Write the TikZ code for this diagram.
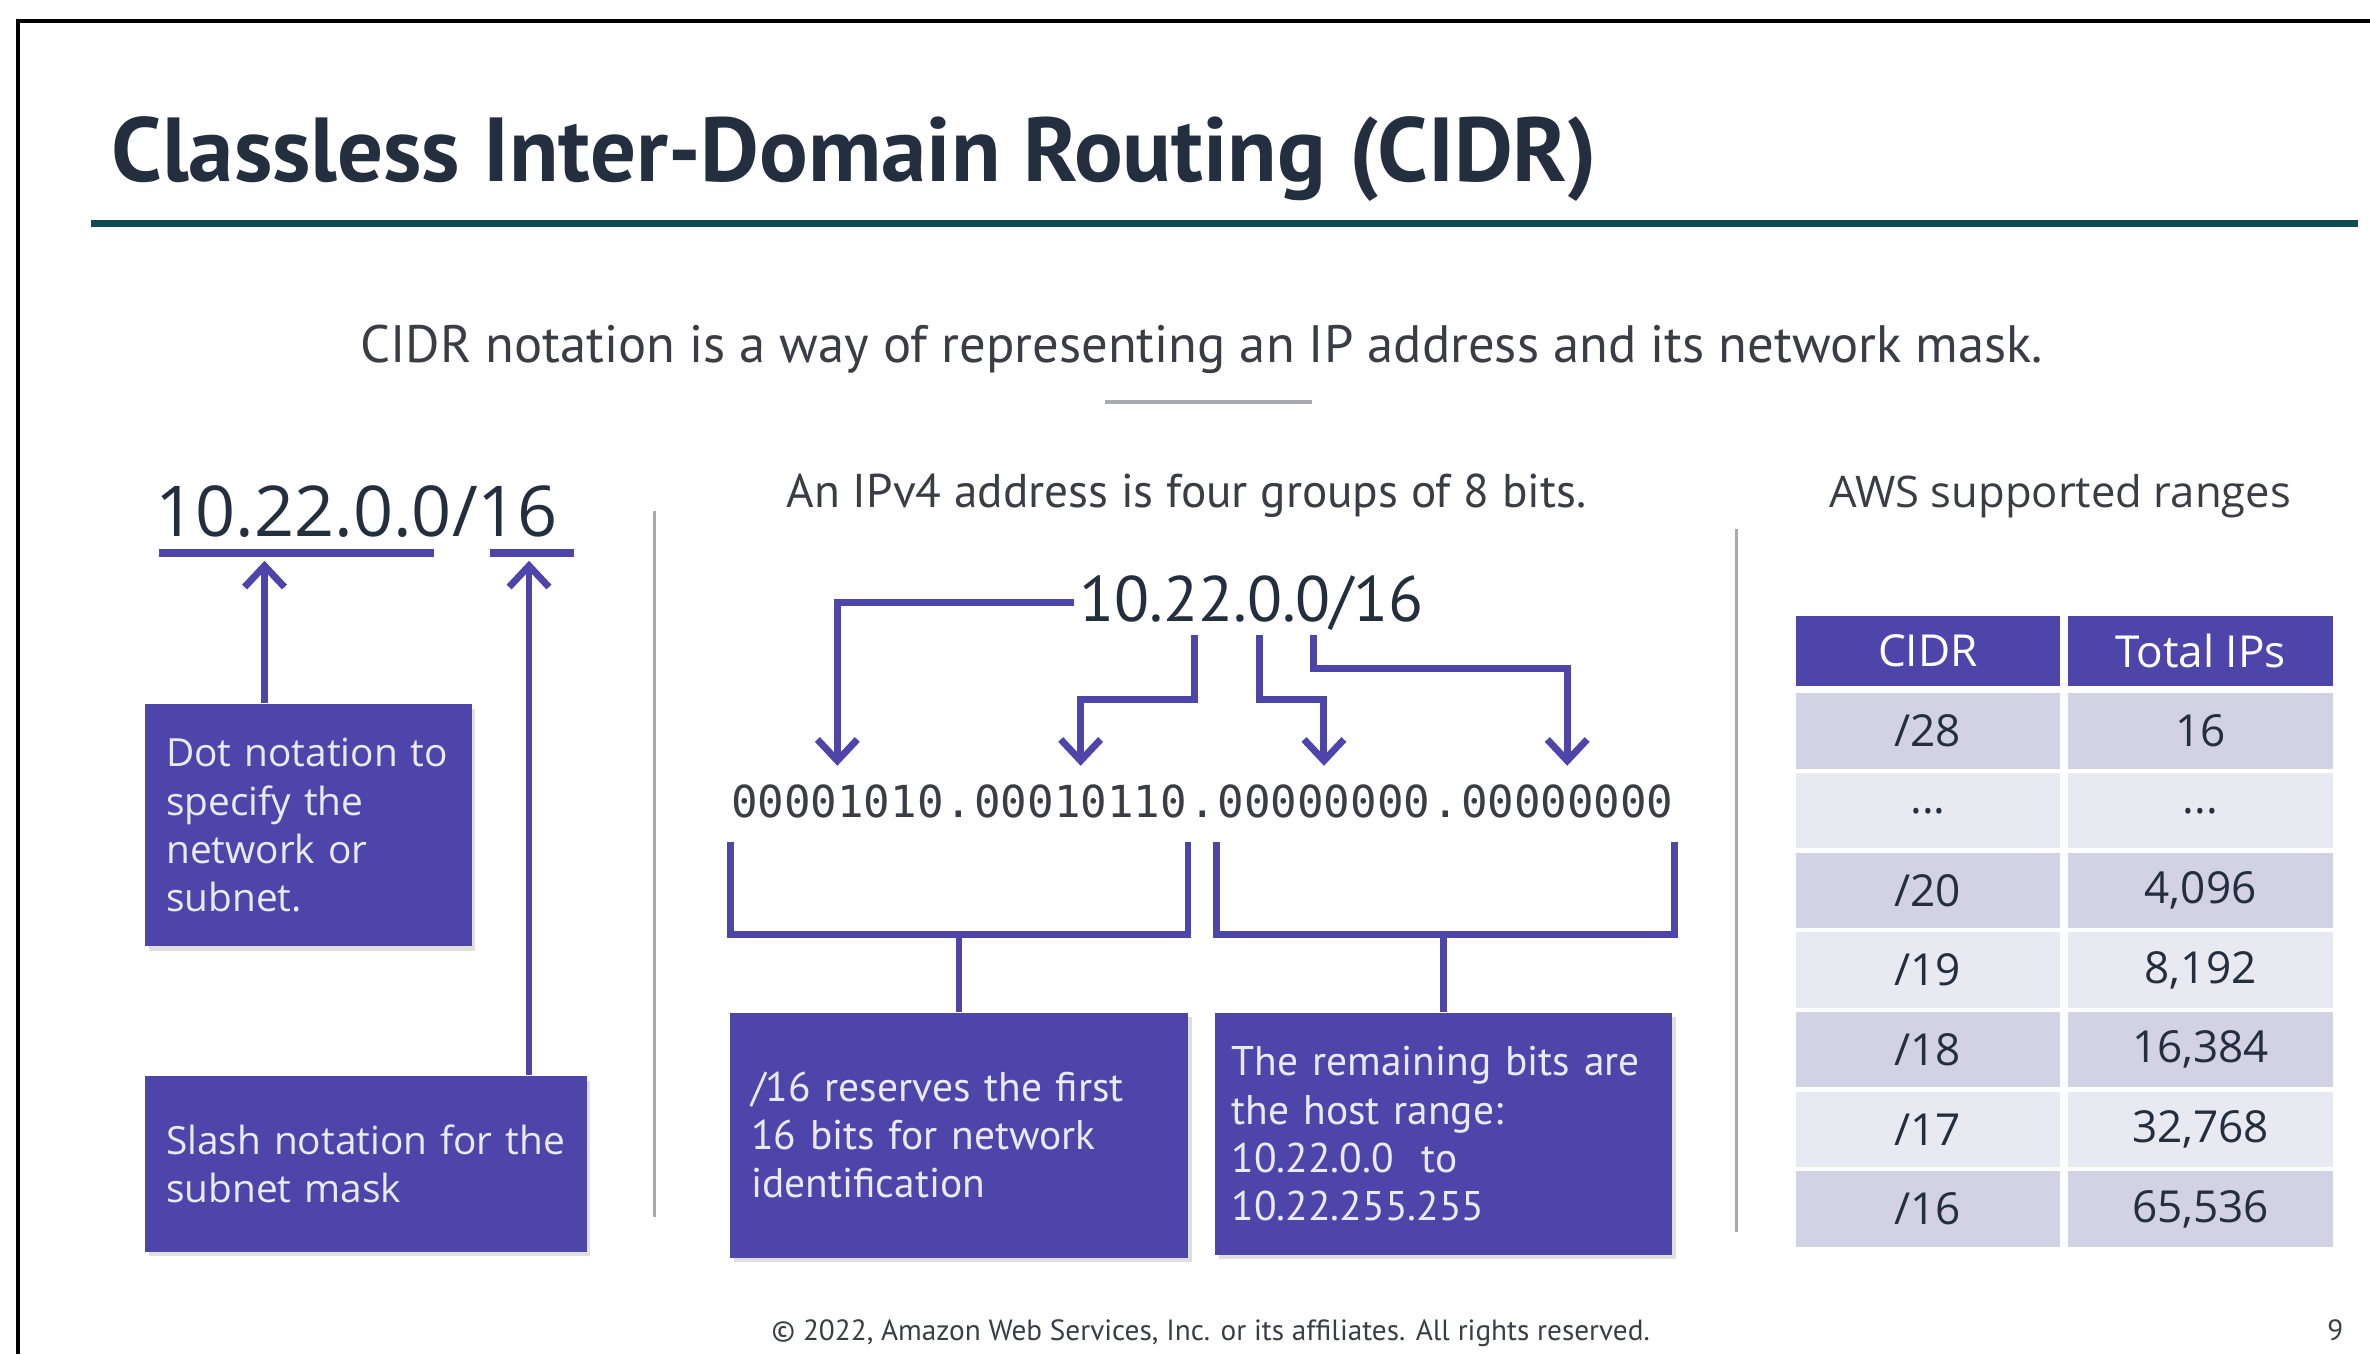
\documentclass[tikz,border=0pt]{standalone}
\usepackage{fontspec}
\setmainfont{Open Sans}
\newfontfamily\narrowfont{PT Sans}
\setmonofont{DejaVu Sans Mono}
\usepackage{tikz}
\usetikzlibrary{positioning,arrows.meta,calc,shadows}
\definecolor{ink}{HTML}{232F3E}
\definecolor{bodytext}{HTML}{3A3E44}
\definecolor{awspurple}{RGB}{78,69,171}
\definecolor{boxtext}{HTML}{EAEAF6}
\definecolor{tealbar}{HTML}{0F4B53}
\definecolor{divgray}{HTML}{A9A9B1}
\definecolor{rowA}{HTML}{D3D2E4}
\definecolor{rowB}{HTML}{E9E9F1}
\newcommand{\setfs}[2]{\fontsize{#1}{#2}\selectfont}
\tikzset{
  infobox/.style={ fill=awspurple, text=boxtext, align=left, inner xsep=0.14cm, inner ysep=0,
    drop shadow={shadow xshift=0.7pt, shadow yshift=-0.9pt, opacity=0.25} }
}
\tikzset{
  link/.style={ draw=awspurple, line width=1.3pt }
}
\tikzset{
  arr/.style={ link, -{Straight Barb[length=4pt, width=7.5pt]} }
}
\tikzset{
  bits/.style={ inner xsep=0, inner ysep=0.12cm, text=bodytext, font=\ttfamily\setfs{8.3}{10} }
}
\tikzset{
  cell/.style={ draw=white, line width=0.8pt, inner sep=0, minimum height=0.527cm, text=ink, font=\setfs{8.3}{10} }
}
\tikzset{
  divider/.style={ draw=divgray, line width=0.6pt }
}

\begin{document}
\begin{tikzpicture}[x=0.01cm, y=-0.01cm]
      \useasboundingbox (0,0) rectangle (1568,896);
      \draw[black, line width=0.8pt] (12,896) -- (12,14) -- (1568,14);

      % heading
      \node[anchor=base west, inner sep=0, text=ink, font=\narrowfont\bfseries\setfs{17.1}{20}] (title) at (73,120) {Classless Inter-Domain Routing (CIDR)};
      \draw[tealbar, line width=1.4pt] (60,148) -- (1560,148);
      \node[anchor=base, text=bodytext, font=\narrowfont\setfs{9.9}{12}] (intro) at (795,240) {CIDR notation is a way of representing an IP address and its network mask.};
      \draw[divider] (731,266) -- (868,266);

      % left part
      \node[anchor=base west, inner sep=0, text=ink, font=\setfs{13.2}{16}] (cidr) at (102,355) {10.22.0.0/16};
      \draw[link, line width=1.4pt] (105,366) -- (287,366);
      \draw[link, line width=1.4pt] (324,366) -- (380,366);
      \coordinate (dottip) at (175,371);
      \coordinate (slashtip) at (350,371);
      \node[infobox, text width=1.88cm, minimum height=1.6cm, font=\setfs{7.3}{9.1}] (dotbox) at (204,546) {Dot notation to\\specify the\\network or\\subnet.};
      \node[infobox, text width=2.64cm, minimum height=1.16cm, font=\setfs{7.3}{9.1}] (slashbox) at (242,770) {Slash notation for the\\subnet mask};
      \draw[arr] (dotbox.north -| dottip) -- (dottip);
      \draw[arr] (slashbox.north -| slashtip) -- (slashtip);

      \draw[divider] (433,338) -- (433,805);
      \draw[divider] (1149,350) -- (1149,815);

      % middle part
      \node[anchor=base, text=bodytext, font=\narrowfont\setfs{8.9}{10}] (groups) at (785,336) {An IPv4 address is four groups of 8 bits.};
      \node[anchor=base, inner sep=0.03cm, text=ink, font=\narrowfont\setfs{12.1}{14}] (addr) at (828,411) {10.22.0.0/16};

      \node[bits, anchor=base west] (o1) at (483,541) {00001010};
      \node[bits, base right=0pt of o1] (p1) {.};
      \node[bits, base right=0pt of p1] (o2) {00010110};
      \node[bits, base right=0pt of o2] (p2) {.};
      \node[bits, base right=0pt of p2] (o3) {00000000};
      \node[bits, base right=0pt of o3] (p3) {.};
      \node[bits, base right=0pt of p3] (o4) {00000000};

      \coordinate (s2) at (790,420);
      \coordinate (s3) at (833,420);
      \coordinate (s4) at (869,420);
      \draw[arr] (addr.west) -| (o1.north);
      \draw[arr] (s2) -- ++(0,43) -| (o2.north);
      \draw[arr] (s3) -- ++(0,43) -| (o3.north);
      \draw[arr] (s4) -- ++(0,22) -| (o4.north);

      \node[infobox, text width=2.75cm, inner xsep=0.14cm, minimum height=1.62cm, font=\narrowfont\setfs{7.8}{9.05}] (netbox) at (634.5,751) {/16 reserves the first\\16 bits for network\\identification};
      \node[infobox, text width=2.8cm, inner xsep=0.11cm, minimum height=1.6cm, font=\narrowfont\setfs{7.8}{9.05}] (hostbox) at (955,750) {The remaining bits are\\the host range:\\10.22.0.0\ \ to\\10.22.255.255};

      \draw[link] ($(o1.south west)+(0,3)$) -- ++(0,61) coordinate (netfoot) -| ($(o2.south east)+(0,3)$);
      \draw[link] ($(o3.south west)+(0,3)$) -- ++(0,61) coordinate (hostfoot) -| ($(o4.south east)+(0,3)$);
      \draw[link] (netbox.north) -- (netbox.north |- netfoot);
      \draw[link] (hostbox.north) -- (hostbox.north |- hostfoot);

      % right part
      \node[anchor=base, text=bodytext, font=\setfs{8.2}{10}] (aws) at (1363,336) {AWS supported ranges};
      \node[cell, fill=awspurple, text=white, minimum width=1.77cm, minimum height=0.49cm] (hcidr) at (1275.5,430.5) {CIDR};
      \node[cell, fill=awspurple, text=white, minimum width=1.78cm, minimum height=0.49cm, right=0pt of hcidr] (hips) {Total IPs};
      \foreach \r/\c/\t/\f in {1/{/28}/16/rowA, 3/{/20}/{4,096}/rowA, 4/{/19}/{8,192}/rowB,
                              5/{/18}/{16,384}/rowA, 6/{/17}/{32,768}/rowB, 7/{/16}/{65,536}/rowA} {
        \node[cell, fill=\f, minimum width=1.77cm] (c\r) at (1275.5,{431+52.7*\r}) {\c};
        \node[cell, fill=\f, minimum width=1.78cm, right=0pt of c\r] (n\r) {\t};
      }
      \node[cell, fill=rowB, minimum width=1.77cm] (c2) at (1275.5,{431+52.7*2}) {...};
      \node[cell, fill=rowB, minimum width=1.78cm, right=0pt of c2] (n2) {...};

      % footer
      \node[anchor=base, text=bodytext, font=\narrowfont\setfs{5.5}{6}] (foot) at (801,887) {© 2022, Amazon Web Services, Inc. or its affiliates. All rights reserved.};
      \node[anchor=base, text=bodytext, font=\narrowfont\setfs{5.5}{6}] (page) at (1545,887) {9};
    \end{tikzpicture}
\end{document}
